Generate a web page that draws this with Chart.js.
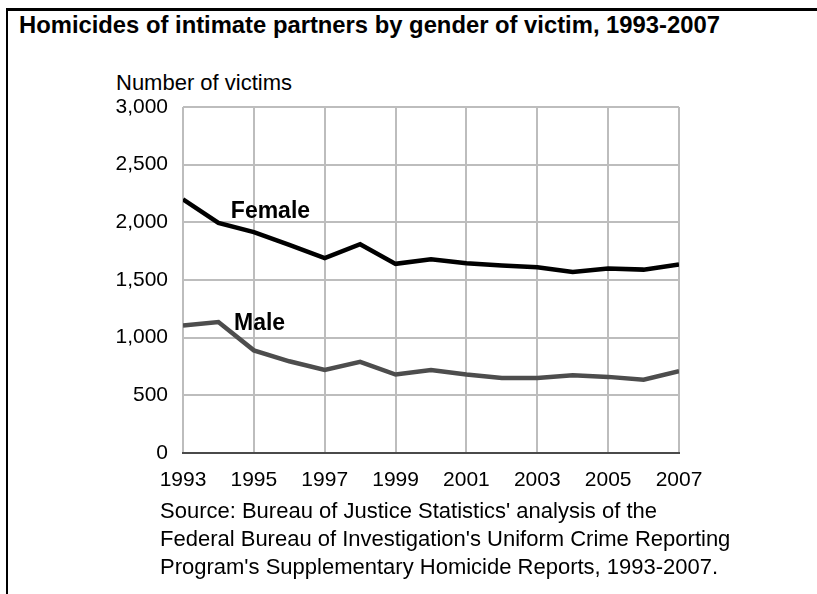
<!DOCTYPE html>
<html>
<head>
<meta charset="utf-8">
<script src="https://cdn.jsdelivr.net/npm/chart.js@4.4.3/dist/chart.umd.min.js"></script>
<style>
    html, body { margin: 0; padding: 0; background: #fff; }
    .page { position: relative; width: 817px; height: 594px; overflow: hidden; font-family: "Liberation Sans", Arial, sans-serif; color: #000; }
    .frame { position: absolute; left: 6px; top: 8px; right: -10px; bottom: -10px; border-left: 2px solid #000; border-top: 3px solid #000; }
    .chartTitle { position: absolute; left: 19px; top: 13px; font-size: 23.8px; line-height: 24px; font-weight: bold; white-space: nowrap; }
    .axisTitle { position: absolute; left: 116px; top: 72px; font-size: 22px; line-height: 22px; white-space: nowrap; }
    .source { position: absolute; left: 160px; top: 497px; font-size: 22px; line-height: 28px; white-space: nowrap; }
    canvas { position: absolute; left: 0; top: 0; }
</style>
</head>
<body>
<div class="page">
    <div class="frame"></div>
    <div class="chartTitle">Homicides of intimate partners by gender of victim, 1993-2007</div>
    <div class="axisTitle">Number of victims</div>
    <canvas id="homicideChart" width="817" height="594"></canvas>
    <div class="source">Source: Bureau of Justice Statistics' analysis of the<br>Federal Bureau of Investigation's Uniform Crime Reporting<br>Program's Supplementary Homicide Reports, 1993-2007.</div>
</div>
<script>
const years = [1993, 1994, 1995, 1996, 1997, 1998, 1999, 2000, 2001, 2002, 2003, 2004, 2005, 2006, 2007];
const femaleVictims = [2200, 1995, 1915, 1805, 1690, 1810, 1640, 1680, 1645, 1625, 1610, 1570, 1600, 1590, 1635];
const maleVictims = [1105, 1135, 890, 795, 720, 790, 680, 720, 680, 650, 650, 675, 660, 635, 710];
const yTicks = [0, 500, 1000, 1500, 2000, 2500, 3000];
const xTicks = [1993, 1995, 1997, 1999, 2001, 2003, 2005, 2007];

function toPoints(values) {
    return years.map((year, i) => ({ x: year, y: values[i] }));
}

// writes "Female" / "Male" next to their lines
const lineLabels = {
    id: 'lineLabels',
    afterDatasetsDraw(chart) {
        const { ctx, scales: { x, y } } = chart;
        const spots = [
            { text: 'Female', year: 1994.35, value: 2035 },
            { text: 'Male', year: 1994.44, value: 1065 }
        ];
        ctx.save();
        ctx.font = 'bold 23px "Liberation Sans", Arial, sans-serif';
        ctx.fillStyle = '#000';
        ctx.textAlign = 'left';
        ctx.textBaseline = 'alphabetic';
        spots.forEach(s => ctx.fillText(s.text, x.getPixelForValue(s.year), y.getPixelForValue(s.value)));
        ctx.restore();
    }
};

const ctx = document.querySelector('#homicideChart');

new Chart(ctx, {
    type: 'line',
    data: {
        datasets: [
            {
                label: 'Female',
                data: toPoints(femaleVictims),
                borderColor: '#000000',
                borderWidth: 4.5,
                pointRadius: 0,
                tension: 0
            },
            {
                label: 'Male',
                data: toPoints(maleVictims),
                borderColor: '#4d4d4d',
                borderWidth: 4.5,
                pointRadius: 0,
                tension: 0
            }
        ]
    },
    options: {
        responsive: false,
        animation: false,
        layout: { padding: { left: 108, right: 138, top: 107, bottom: 81 } },
        plugins: {
            legend: { display: false },
            tooltip: { enabled: false }
        },
        scales: {
            x: {
                type: 'linear',
                min: years[0],
                max: years[years.length - 1],
                afterFit: s => { s.height = 60; },
                afterBuildTicks: s => { s.ticks = xTicks.map(v => ({ value: v })); },
                grid: { color: '#bdbdbd', lineWidth: 2, drawTicks: false },
                border: { color: '#4a4a4a', width: 2 },
                ticks: {
                    padding: 15,
                    color: '#000',
                    font: { family: '"Liberation Sans", Arial, sans-serif', size: 21 },
                    callback: v => String(v)
                }
            },
            y: {
                min: 0,
                max: 3000,
                afterFit: s => { s.width = 75; },
                afterBuildTicks: s => { s.ticks = yTicks.map(v => ({ value: v })); },
                grid: { color: '#bdbdbd', lineWidth: 2, drawTicks: false },
                border: { display: false },
                ticks: {
                    padding: 15,
                    color: '#000',
                    font: { family: '"Liberation Sans", Arial, sans-serif', size: 21 },
                    callback: v => v.toLocaleString('en-US')
                }
            }
        }
    },
    plugins: [lineLabels]
});
</script>
</body>
</html>
